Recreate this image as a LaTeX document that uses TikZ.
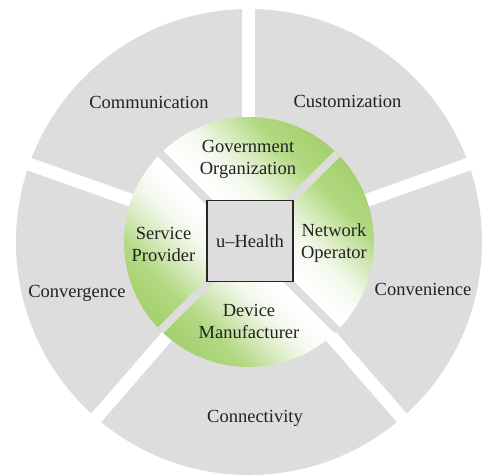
\documentclass[tikz,border=0pt]{standalone}
\usepackage{fontspec}
\setmainfont{Liberation Serif}
\usetikzlibrary{positioning}

\definecolor{ringgray}{RGB}{221,221,221}
\definecolor{leaf}{RGB}{178,217,130}
\definecolor{leafmid}{RGB}{212,233,186}
\definecolor{leafpale}{RGB}{242,248,234}
\definecolor{leafdeep}{RGB}{165,208,110}
\definecolor{inktext}{RGB}{34,34,34}

% green at both ends of the axis, white in the middle
\pgfdeclareverticalshading{leafbow}{100bp}{%
  color(0bp)=(leafdeep); color(25bp)=(leafdeep); color(32bp)=(leaf);
  color(37bp)=(leafmid); color(42bp)=(leafpale); color(48bp)=(white);
  color(52bp)=(white); color(58bp)=(leafpale); color(63bp)=(leafmid);
  color(68bp)=(leaf); color(75bp)=(leafdeep); color(100bp)=(leafdeep)}

\tikzset{
  ringtext/.style={text=inktext, font=\fontsize{18.5}{22}\selectfont, inner sep=0pt},
  pairtext/.style={ringtext, align=center},
  hubbox/.style={ringtext, draw=black!85, line width=1.3pt, fill=ringgray,
    minimum width=86pt, minimum height=81pt}
}

\begin{document}
\begin{tikzpicture}[x=1pt, y=1pt]
    \useasboundingbox[fill=white] (-249,-233) rectangle (233,242);

    % outer ring, cut by white gaps
    \fill[ringgray] (0,0) circle (233);
    \foreach \a in {19.5, 90, 160.5, 229, 311}
        \draw[white, line width=13pt] (0,0) -- (\a:245);

    % inner ring, cut by gray gaps
    \shade[shading=leafbow, shading angle=-45] (0,0) circle (125);
    \foreach \a in {45, 135}
        \draw[ringgray, line width=8pt] (\a:125) -- (\a+180:125);

    \node[hubbox] (hub) at (1,1) {u–Health};

    % inner ring labels
    \node[pairtext] (gov) at (-1,83) {Government\\Organization};
    \node[pairtext] (provider) at (-85.5,-2) {Service\\Provider};
    \node[pairtext] (operator) at (85,-1) {Network\\Operator};
    \node[pairtext] (maker) at (0,-79) {Device\\Manufacturer};

    % outer ring labels
    \node[ringtext, anchor=base] (comm) at (-100,134) {Communication};
    \node[ringtext, anchor=base] (custom) at (98.5,135) {Customization};
    \node[ringtext, anchor=base] (converge) at (-172,-55) {Convergence};
    \node[ringtext, anchor=base] (convenient) at (174,-53) {Convenience};
    \node[ringtext, anchor=base] (connect) at (6,-180) {Connectivity};
\end{tikzpicture}
\end{document}
